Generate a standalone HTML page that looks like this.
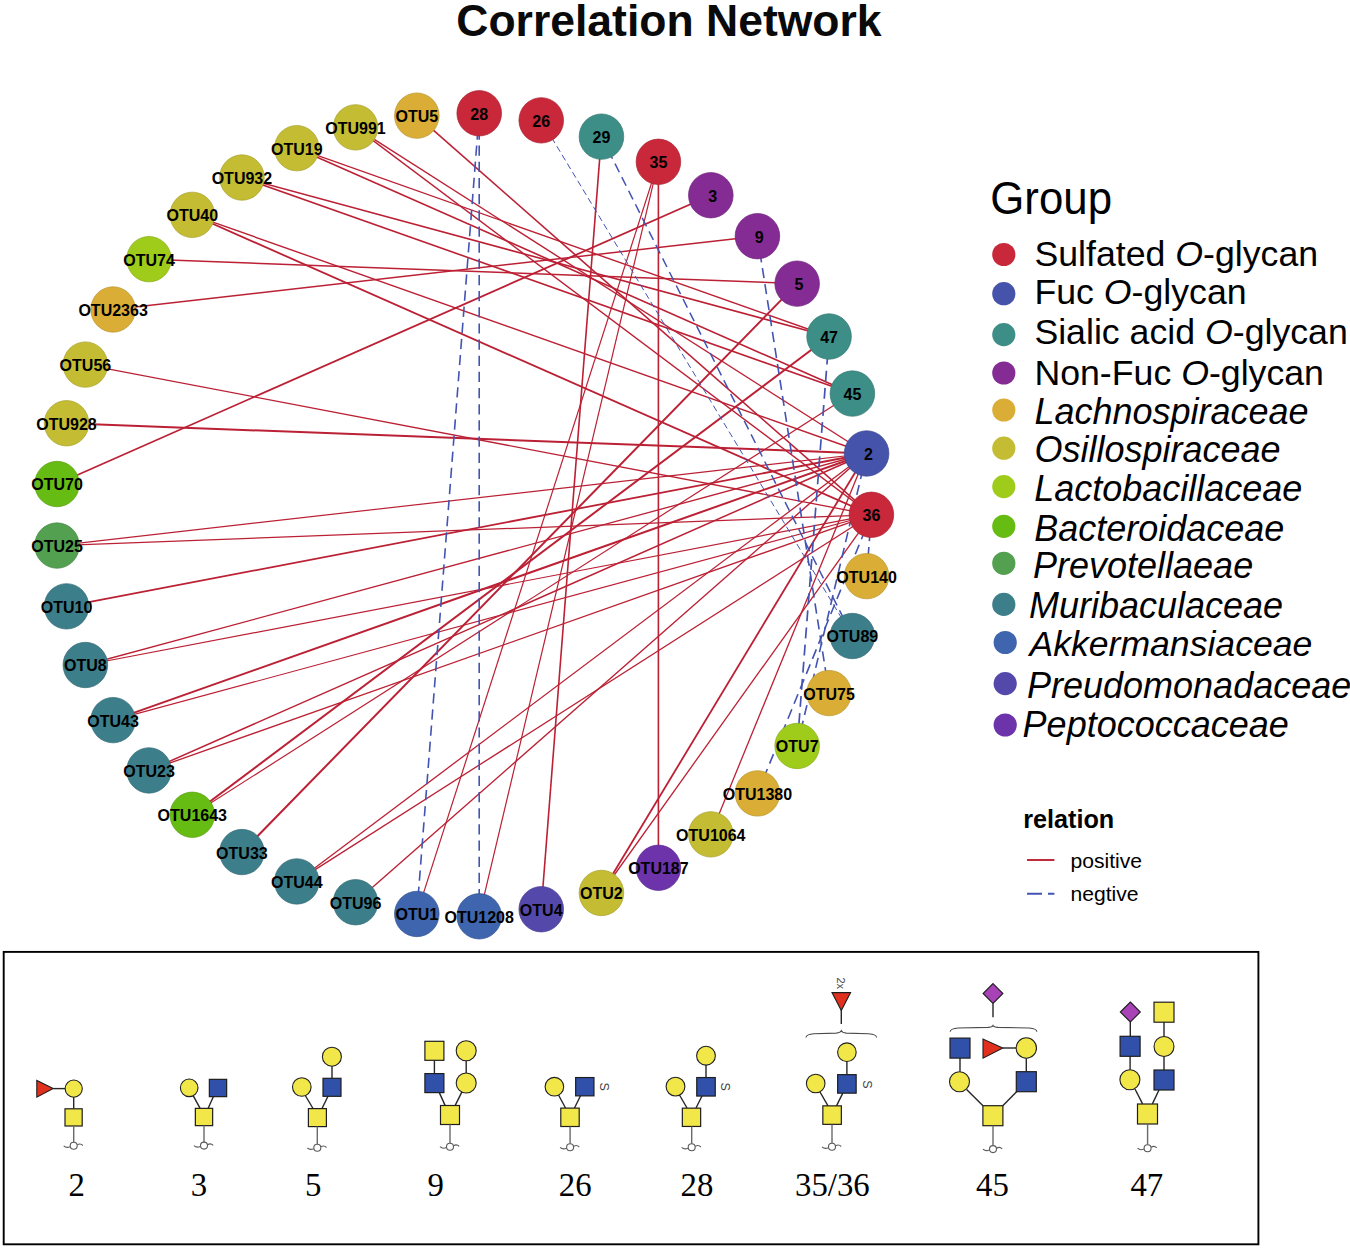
<!DOCTYPE html>
<html><head><meta charset="utf-8"><style>html,body{margin:0;padding:0;background:#fff;}body{width:1350px;height:1248px;overflow:hidden;}svg{display:block;font-family:"Liberation Sans",sans-serif;}</style></head><body>
<svg width="1350" height="1248" viewBox="0 0 1350 1248">
<rect width="1350" height="1248" fill="#fff"/>
<text x="456.3" y="35.6" font-size="44.5" font-weight="bold" fill="#0a0a0a">Correlation Network</text>
<g stroke="#BB2034" stroke-linecap="butt" fill="none">
<line x1="416.8" y1="115.7" x2="871.4" y2="514.8" stroke-width="1.6"/>
<line x1="355.5" y1="127.4" x2="866.6" y2="453.5" stroke-width="1.4"/>
<line x1="355.5" y1="127.4" x2="871.4" y2="514.8" stroke-width="1.4"/>
<line x1="296.8" y1="148.2" x2="829.1" y2="336.5" stroke-width="1.4"/>
<line x1="296.8" y1="148.2" x2="852.4" y2="393.6" stroke-width="1.6"/>
<line x1="241.9" y1="177.5" x2="829.1" y2="336.5" stroke-width="1.6"/>
<line x1="241.9" y1="177.5" x2="852.4" y2="393.6" stroke-width="1.6"/>
<line x1="192.3" y1="214.8" x2="866.6" y2="453.5" stroke-width="1.4"/>
<line x1="192.3" y1="214.8" x2="871.4" y2="514.8" stroke-width="1.8"/>
<line x1="149.0" y1="259.2" x2="797.2" y2="283.6" stroke-width="1.5"/>
<line x1="113.1" y1="309.5" x2="757.4" y2="236.2" stroke-width="1.5"/>
<line x1="85.4" y1="364.6" x2="871.4" y2="514.8" stroke-width="1.3"/>
<line x1="66.5" y1="423.2" x2="866.6" y2="453.5" stroke-width="2.0"/>
<line x1="57.0" y1="484.0" x2="710.8" y2="195.3" stroke-width="1.8"/>
<line x1="57.0" y1="545.6" x2="866.6" y2="453.5" stroke-width="1.2"/>
<line x1="57.0" y1="545.6" x2="871.4" y2="514.8" stroke-width="1.2"/>
<line x1="66.5" y1="606.4" x2="866.6" y2="453.5" stroke-width="1.8"/>
<line x1="85.4" y1="665.0" x2="866.6" y2="453.5" stroke-width="1.3"/>
<line x1="85.4" y1="665.0" x2="871.4" y2="514.8" stroke-width="1.2"/>
<line x1="113.1" y1="720.1" x2="866.6" y2="453.5" stroke-width="2.0"/>
<line x1="113.1" y1="720.1" x2="871.4" y2="514.8" stroke-width="1.1"/>
<line x1="149.0" y1="770.4" x2="866.6" y2="453.5" stroke-width="1.5"/>
<line x1="149.0" y1="770.4" x2="871.4" y2="514.8" stroke-width="1.3"/>
<line x1="192.3" y1="814.8" x2="829.1" y2="336.5" stroke-width="2.0"/>
<line x1="192.3" y1="814.8" x2="852.4" y2="393.6" stroke-width="1.2"/>
<line x1="241.9" y1="852.1" x2="797.2" y2="283.6" stroke-width="2.0"/>
<line x1="296.8" y1="881.4" x2="866.6" y2="453.5" stroke-width="1.3"/>
<line x1="296.8" y1="881.4" x2="871.4" y2="514.8" stroke-width="1.3"/>
<line x1="355.5" y1="902.2" x2="866.6" y2="453.5" stroke-width="1.4"/>
<line x1="416.8" y1="913.9" x2="658.4" y2="161.8" stroke-width="1.2"/>
<line x1="479.2" y1="916.3" x2="658.4" y2="161.8" stroke-width="1.2"/>
<line x1="541.2" y1="909.3" x2="601.4" y2="136.6" stroke-width="1.6"/>
<line x1="601.4" y1="893.0" x2="866.6" y2="453.5" stroke-width="1.8"/>
<line x1="601.4" y1="893.0" x2="871.4" y2="514.8" stroke-width="1.3"/>
<line x1="658.4" y1="867.8" x2="658.4" y2="161.8" stroke-width="1.6"/>
<line x1="710.8" y1="834.3" x2="866.6" y2="453.5" stroke-width="1.3"/>
</g>
<g stroke="#4353B2" fill="none">
<line x1="479.2" y1="113.3" x2="416.8" y2="913.9" stroke-width="1.6" stroke-dasharray="10.24 5.92"/>
<line x1="479.2" y1="113.3" x2="479.2" y2="916.3" stroke-width="1.6" stroke-dasharray="10.24 5.92"/>
<line x1="541.2" y1="120.3" x2="852.4" y2="636.0" stroke-width="1.0" stroke-dasharray="6.40 3.70"/>
<line x1="601.4" y1="136.6" x2="852.4" y2="636.0" stroke-width="1.5" stroke-dasharray="9.60 5.55"/>
<line x1="757.4" y1="236.2" x2="829.1" y2="693.1" stroke-width="1.6" stroke-dasharray="10.24 5.92"/>
<line x1="829.1" y1="336.5" x2="797.2" y2="746.0" stroke-width="1.7" stroke-dasharray="10.88 6.29"/>
<line x1="866.6" y1="453.5" x2="797.2" y2="746.0" stroke-width="1.6" stroke-dasharray="10.24 5.92"/>
<line x1="871.4" y1="514.8" x2="757.4" y2="793.4" stroke-width="1.6" stroke-dasharray="10.24 5.92"/>
<line x1="871.4" y1="514.8" x2="866.6" y2="576.1" stroke-width="1.6" stroke-dasharray="10.24 5.92"/>
</g>
<ellipse cx="871.40" cy="514.80" rx="22.3" ry="22.7" fill="#C8283A" stroke="#AA2231" stroke-width="0.7"/>
<ellipse cx="866.62" cy="453.47" rx="22.3" ry="22.7" fill="#4653AB" stroke="#3B4691" stroke-width="0.7"/>
<ellipse cx="852.40" cy="393.57" rx="22.3" ry="22.7" fill="#3E8E88" stroke="#347873" stroke-width="0.7"/>
<ellipse cx="829.06" cy="336.51" rx="22.3" ry="22.7" fill="#3E8E88" stroke="#347873" stroke-width="0.7"/>
<ellipse cx="797.15" cy="283.64" rx="22.3" ry="22.7" fill="#842C94" stroke="#70257D" stroke-width="0.7"/>
<ellipse cx="757.43" cy="236.18" rx="22.3" ry="22.7" fill="#842C94" stroke="#70257D" stroke-width="0.7"/>
<ellipse cx="710.82" cy="195.25" rx="22.3" ry="22.7" fill="#842C94" stroke="#70257D" stroke-width="0.7"/>
<ellipse cx="658.41" cy="161.81" rx="22.3" ry="22.7" fill="#C8283A" stroke="#AA2231" stroke-width="0.7"/>
<ellipse cx="601.44" cy="136.65" rx="22.3" ry="22.7" fill="#3E8E88" stroke="#347873" stroke-width="0.7"/>
<ellipse cx="541.24" cy="120.35" rx="22.3" ry="22.7" fill="#C8283A" stroke="#AA2231" stroke-width="0.7"/>
<ellipse cx="479.22" cy="113.29" rx="22.3" ry="22.7" fill="#C8283A" stroke="#AA2231" stroke-width="0.7"/>
<ellipse cx="416.83" cy="115.65" rx="22.3" ry="22.7" fill="#DAAE36" stroke="#B9932D" stroke-width="0.7"/>
<ellipse cx="355.54" cy="127.36" rx="22.3" ry="22.7" fill="#C4BD33" stroke="#A6A02B" stroke-width="0.7"/>
<ellipse cx="296.78" cy="148.16" rx="22.3" ry="22.7" fill="#C4BD33" stroke="#A6A02B" stroke-width="0.7"/>
<ellipse cx="241.93" cy="177.54" rx="22.3" ry="22.7" fill="#C4BD33" stroke="#A6A02B" stroke-width="0.7"/>
<ellipse cx="192.28" cy="214.83" rx="22.3" ry="22.7" fill="#C4BD33" stroke="#A6A02B" stroke-width="0.7"/>
<ellipse cx="148.99" cy="259.16" rx="22.3" ry="22.7" fill="#9FCC1A" stroke="#87AD16" stroke-width="0.7"/>
<ellipse cx="113.07" cy="309.47" rx="22.3" ry="22.7" fill="#DAAE36" stroke="#B9932D" stroke-width="0.7"/>
<ellipse cx="85.36" cy="364.60" rx="22.3" ry="22.7" fill="#C4BD33" stroke="#A6A02B" stroke-width="0.7"/>
<ellipse cx="66.53" cy="423.25" rx="22.3" ry="22.7" fill="#C4BD33" stroke="#A6A02B" stroke-width="0.7"/>
<ellipse cx="57.00" cy="484.04" rx="22.3" ry="22.7" fill="#66BC12" stroke="#569F0F" stroke-width="0.7"/>
<ellipse cx="57.00" cy="545.56" rx="22.3" ry="22.7" fill="#52A050" stroke="#458844" stroke-width="0.7"/>
<ellipse cx="66.53" cy="606.35" rx="22.3" ry="22.7" fill="#3D7E8B" stroke="#336B76" stroke-width="0.7"/>
<ellipse cx="85.36" cy="665.00" rx="22.3" ry="22.7" fill="#3D7E8B" stroke="#336B76" stroke-width="0.7"/>
<ellipse cx="113.07" cy="720.13" rx="22.3" ry="22.7" fill="#3D7E8B" stroke="#336B76" stroke-width="0.7"/>
<ellipse cx="148.99" cy="770.44" rx="22.3" ry="22.7" fill="#3D7E8B" stroke="#336B76" stroke-width="0.7"/>
<ellipse cx="192.28" cy="814.77" rx="22.3" ry="22.7" fill="#66BC12" stroke="#569F0F" stroke-width="0.7"/>
<ellipse cx="241.93" cy="852.06" rx="22.3" ry="22.7" fill="#3D7E8B" stroke="#336B76" stroke-width="0.7"/>
<ellipse cx="296.78" cy="881.44" rx="22.3" ry="22.7" fill="#3D7E8B" stroke="#336B76" stroke-width="0.7"/>
<ellipse cx="355.54" cy="902.24" rx="22.3" ry="22.7" fill="#3D7E8B" stroke="#336B76" stroke-width="0.7"/>
<ellipse cx="416.83" cy="913.95" rx="22.3" ry="22.7" fill="#3E65AD" stroke="#345593" stroke-width="0.7"/>
<ellipse cx="479.22" cy="916.31" rx="22.3" ry="22.7" fill="#3E65AD" stroke="#345593" stroke-width="0.7"/>
<ellipse cx="541.24" cy="909.25" rx="22.3" ry="22.7" fill="#5548AB" stroke="#483D91" stroke-width="0.7"/>
<ellipse cx="601.44" cy="892.95" rx="22.3" ry="22.7" fill="#C4BD33" stroke="#A6A02B" stroke-width="0.7"/>
<ellipse cx="658.41" cy="867.79" rx="22.3" ry="22.7" fill="#6C33AB" stroke="#5B2B91" stroke-width="0.7"/>
<ellipse cx="710.82" cy="834.35" rx="22.3" ry="22.7" fill="#C4BD33" stroke="#A6A02B" stroke-width="0.7"/>
<ellipse cx="757.43" cy="793.42" rx="22.3" ry="22.7" fill="#DAAE36" stroke="#B9932D" stroke-width="0.7"/>
<ellipse cx="797.15" cy="745.96" rx="22.3" ry="22.7" fill="#9FCC1A" stroke="#87AD16" stroke-width="0.7"/>
<ellipse cx="829.06" cy="693.09" rx="22.3" ry="22.7" fill="#DAAE36" stroke="#B9932D" stroke-width="0.7"/>
<ellipse cx="852.40" cy="636.03" rx="22.3" ry="22.7" fill="#3D7E8B" stroke="#336B76" stroke-width="0.7"/>
<ellipse cx="866.62" cy="576.13" rx="22.3" ry="22.7" fill="#DAAE36" stroke="#B9932D" stroke-width="0.7"/>
<g font-size="16" font-weight="bold" fill="#000" text-anchor="middle">
<text transform="translate(871.4 521.2) scale(1.0 1)">36</text>
<text transform="translate(868.4 459.9) scale(1.0 1)">2</text>
<text transform="translate(852.4 400.0) scale(1.0 1)">45</text>
<text transform="translate(829.1 342.9) scale(1.0 1)">47</text>
<text transform="translate(799.0 290.0) scale(1.0 1)">5</text>
<text transform="translate(759.2 242.6) scale(1.0 1)">9</text>
<text transform="translate(712.6 201.7) scale(1.0 1)">3</text>
<text transform="translate(658.4 168.2) scale(1.0 1)">35</text>
<text transform="translate(601.4 143.0) scale(1.0 1)">29</text>
<text transform="translate(541.2 126.7) scale(1.0 1)">26</text>
<text transform="translate(479.2 119.7) scale(1.0 1)">28</text>
<text transform="translate(416.8 122.1) scale(1.0 1)">OTU5</text>
<text transform="translate(355.5 133.8) scale(1.0 1)">OTU991</text>
<text transform="translate(296.8 154.6) scale(1.0 1)">OTU19</text>
<text transform="translate(241.9 183.9) scale(1.0 1)">OTU932</text>
<text transform="translate(192.3 221.2) scale(1.0 1)">OTU40</text>
<text transform="translate(149.0 265.6) scale(1.0 1)">OTU74</text>
<text transform="translate(113.1 315.9) scale(1.0 1)">OTU2363</text>
<text transform="translate(85.4 371.0) scale(1.0 1)">OTU56</text>
<text transform="translate(66.5 429.6) scale(1.0 1)">OTU928</text>
<text transform="translate(57.0 490.4) scale(1.0 1)">OTU70</text>
<text transform="translate(57.0 552.0) scale(1.0 1)">OTU25</text>
<text transform="translate(66.5 612.8) scale(1.0 1)">OTU10</text>
<text transform="translate(85.4 671.4) scale(1.0 1)">OTU8</text>
<text transform="translate(113.1 726.5) scale(1.0 1)">OTU43</text>
<text transform="translate(149.0 776.8) scale(1.0 1)">OTU23</text>
<text transform="translate(192.3 821.2) scale(1.0 1)">OTU1643</text>
<text transform="translate(241.9 858.5) scale(1.0 1)">OTU33</text>
<text transform="translate(296.8 887.8) scale(1.0 1)">OTU44</text>
<text transform="translate(355.5 908.6) scale(1.0 1)">OTU96</text>
<text transform="translate(416.8 920.3) scale(1.0 1)">OTU1</text>
<text transform="translate(479.2 922.7) scale(1.0 1)">OTU1208</text>
<text transform="translate(541.2 915.7) scale(1.0 1)">OTU4</text>
<text transform="translate(601.4 899.4) scale(1.0 1)">OTU2</text>
<text transform="translate(658.4 874.2) scale(1.0 1)">OTU187</text>
<text transform="translate(710.8 840.7) scale(1.0 1)">OTU1064</text>
<text transform="translate(757.4 799.8) scale(1.0 1)">OTU1380</text>
<text transform="translate(797.2 752.4) scale(1.0 1)">OTU7</text>
<text transform="translate(829.1 699.5) scale(1.0 1)">OTU75</text>
<text transform="translate(852.4 642.4) scale(1.0 1)">OTU89</text>
<text transform="translate(866.6 582.5) scale(1.0 1)">OTU140</text>
</g>
<text transform="translate(990.3 213.6) scale(0.938 1)" font-size="46.7" fill="#000">Group</text>
<circle cx="1003.8" cy="254.5" r="11.6" fill="#C8283A"/>
<text x="1034.4" y="265.5" font-size="35.7" fill="#000" xml:space="preserve"><tspan>Sulfated </tspan><tspan font-style="italic">O</tspan><tspan>-glycan</tspan></text>
<circle cx="1003.8" cy="293.7" r="11.6" fill="#4653AB"/>
<text x="1034.4" y="303.9" font-size="35.7" fill="#000" xml:space="preserve"><tspan>Fuc </tspan><tspan font-style="italic">O</tspan><tspan>-glycan</tspan></text>
<circle cx="1003.8" cy="334.6" r="11.6" fill="#3E8E88"/>
<text x="1034.4" y="344.2" font-size="35.7" fill="#000" xml:space="preserve"><tspan>Sialic acid </tspan><tspan font-style="italic">O</tspan><tspan>-glycan</tspan></text>
<circle cx="1003.8" cy="373.0" r="11.6" fill="#842C94"/>
<text x="1034.4" y="385.3" font-size="35.7" fill="#000" xml:space="preserve"><tspan>Non-Fuc </tspan><tspan font-style="italic">O</tspan><tspan>-glycan</tspan></text>
<circle cx="1003.8" cy="410.0" r="11.6" fill="#DAAE36"/>
<text x="1034.4" y="423.6" font-size="36.0" fill="#000" xml:space="preserve"><tspan font-style="italic">Lachnospiraceae</tspan></text>
<circle cx="1003.8" cy="448.2" r="11.6" fill="#C4BD33"/>
<text x="1034.4" y="461.7" font-size="36.0" fill="#000" xml:space="preserve"><tspan font-style="italic">Osillospiraceae</tspan></text>
<circle cx="1003.8" cy="486.6" r="11.6" fill="#9FCC1A"/>
<text x="1034.2" y="500.8" font-size="36.0" fill="#000" xml:space="preserve"><tspan font-style="italic">Lactobacillaceae</tspan></text>
<circle cx="1003.8" cy="526.3" r="11.6" fill="#66BC12"/>
<text x="1034.2" y="540.6" font-size="36.0" fill="#000" xml:space="preserve"><tspan font-style="italic">Bacteroidaceae</tspan></text>
<circle cx="1003.8" cy="563.3" r="11.6" fill="#52A050"/>
<text x="1033.0" y="577.6" font-size="36.0" fill="#000" xml:space="preserve"><tspan font-style="italic">Prevotellaeae</tspan></text>
<circle cx="1003.8" cy="604.4" r="11.6" fill="#3D7E8B"/>
<text x="1028.9" y="617.9" font-size="36.0" fill="#000" xml:space="preserve"><tspan font-style="italic">Muribaculaceae</tspan></text>
<circle cx="1005.2" cy="642.5" r="11.6" fill="#3E65AD"/>
<text x="1029.5" y="656.2" font-size="35.6" fill="#000" xml:space="preserve"><tspan font-style="italic">Akkermansiaceae</tspan></text>
<circle cx="1005.2" cy="683.6" r="11.6" fill="#5548AB"/>
<text x="1027.0" y="697.6" font-size="36.0" fill="#000" xml:space="preserve"><tspan font-style="italic">Preudomonadaceae</tspan></text>
<circle cx="1005.2" cy="725.0" r="11.6" fill="#6C33AB"/>
<text x="1022.6" y="737.1" font-size="36.0" fill="#000" xml:space="preserve"><tspan font-style="italic">Peptococcaceae</tspan></text>
<text x="1023.2" y="827.8" font-size="25.2" font-weight="bold" fill="#000">relation</text>
<line x1="1027" y1="860" x2="1054.4" y2="860" stroke="#BB2034" stroke-width="1.9"/>
<line x1="1027" y1="893.7" x2="1054.4" y2="893.7" stroke="#4353B2" stroke-width="1.9" stroke-dasharray="15 6"/>
<text x="1070.5" y="867.8" font-size="21.1" fill="#000">positive</text>
<text x="1070.5" y="901.1" font-size="21.1" fill="#000">negtive</text>
<rect x="3.7" y="951.9" width="1254.7" height="292.4" fill="none" stroke="#000" stroke-width="1.9"/>
<line x1="53.20" y1="1088.60" x2="65.30" y2="1088.60" stroke="#262626" stroke-width="1.4"/>
<polygon points="36.80,1080.40 36.80,1097.20 53.20,1088.60" fill="#E1311E" stroke="#1e1e1e" stroke-width="1.1" stroke-linejoin="miter"/>
<line x1="73.70" y1="1097.00" x2="73.70" y2="1108.80" stroke="#262626" stroke-width="1.4"/>
<circle cx="73.70" cy="1088.60" r="8.60" fill="#F2E748" stroke="#1e1e1e" stroke-width="1.1"/>
<rect x="65.00" y="1108.80" width="17.20" height="17.20" fill="#F2E748" stroke="#1e1e1e" stroke-width="1.2"/>
<line x1="73.70" y1="1126.00" x2="73.70" y2="1142.20" stroke="#6a6a6a" stroke-width="1.4"/>
<circle cx="73.70" cy="1145.80" r="3.5" fill="#fff" stroke="#5a5a5a" stroke-width="1.1"/>
<path d="M63.70,1145.80 q2.5,2.6 6.4,0.9 M77.30,1144.90 q3,-2 5.6,0.6" fill="none" stroke="#5a5a5a" stroke-width="1.1"/>
<line x1="193.30" y1="1095.90" x2="200.00" y2="1108.20" stroke="#262626" stroke-width="1.4"/>
<line x1="213.30" y1="1096.70" x2="208.20" y2="1108.20" stroke="#262626" stroke-width="1.4"/>
<circle cx="189.20" cy="1087.80" r="8.80" fill="#F2E748" stroke="#1e1e1e" stroke-width="1.1"/>
<rect x="209.35" y="1079.35" width="17.30" height="17.30" fill="#3150AA" stroke="#1e1e1e" stroke-width="1.2"/>
<rect x="195.35" y="1108.35" width="17.30" height="17.30" fill="#F2E748" stroke="#1e1e1e" stroke-width="1.2"/>
<line x1="204.00" y1="1125.60" x2="204.00" y2="1142.00" stroke="#6a6a6a" stroke-width="1.4"/>
<circle cx="204.00" cy="1145.60" r="3.5" fill="#fff" stroke="#5a5a5a" stroke-width="1.1"/>
<path d="M194.00,1145.60 q2.5,2.6 6.4,0.9 M207.60,1144.70 q3,-2 5.6,0.6" fill="none" stroke="#5a5a5a" stroke-width="1.1"/>
<line x1="305.00" y1="1095.00" x2="313.00" y2="1108.50" stroke="#262626" stroke-width="1.4"/>
<line x1="328.00" y1="1096.30" x2="322.00" y2="1108.50" stroke="#262626" stroke-width="1.4"/>
<line x1="332.00" y1="1066.00" x2="332.00" y2="1078.00" stroke="#262626" stroke-width="1.4"/>
<circle cx="301.80" cy="1087.00" r="9.30" fill="#F2E748" stroke="#1e1e1e" stroke-width="1.1"/>
<rect x="323.00" y="1078.30" width="18.00" height="18.00" fill="#3150AA" stroke="#1e1e1e" stroke-width="1.2"/>
<circle cx="331.90" cy="1056.70" r="9.50" fill="#F2E748" stroke="#1e1e1e" stroke-width="1.1"/>
<rect x="308.40" y="1108.60" width="18.00" height="18.00" fill="#F2E748" stroke="#1e1e1e" stroke-width="1.2"/>
<line x1="317.30" y1="1126.60" x2="317.30" y2="1144.20" stroke="#6a6a6a" stroke-width="1.4"/>
<circle cx="317.30" cy="1147.80" r="3.5" fill="#fff" stroke="#5a5a5a" stroke-width="1.1"/>
<path d="M307.30,1147.80 q2.5,2.6 6.4,0.9 M320.90,1146.90 q3,-2 5.6,0.6" fill="none" stroke="#5a5a5a" stroke-width="1.1"/>
<line x1="434.40" y1="1060.30" x2="434.40" y2="1073.60" stroke="#262626" stroke-width="1.4"/>
<line x1="466.20" y1="1060.70" x2="466.20" y2="1073.00" stroke="#262626" stroke-width="1.4"/>
<line x1="439.30" y1="1092.60" x2="445.20" y2="1105.60" stroke="#262626" stroke-width="1.4"/>
<line x1="461.90" y1="1091.90" x2="455.10" y2="1105.60" stroke="#262626" stroke-width="1.4"/>
<rect x="424.90" y="1041.30" width="19.00" height="19.00" fill="#F2E748" stroke="#1e1e1e" stroke-width="1.2"/>
<rect x="424.90" y="1073.60" width="19.00" height="19.00" fill="#3150AA" stroke="#1e1e1e" stroke-width="1.2"/>
<circle cx="466.20" cy="1050.70" r="10.00" fill="#F2E748" stroke="#1e1e1e" stroke-width="1.1"/>
<circle cx="466.20" cy="1083.00" r="10.00" fill="#F2E748" stroke="#1e1e1e" stroke-width="1.1"/>
<rect x="440.50" y="1105.50" width="19.00" height="19.00" fill="#F2E748" stroke="#1e1e1e" stroke-width="1.2"/>
<line x1="450.00" y1="1124.50" x2="450.00" y2="1143.10" stroke="#6a6a6a" stroke-width="1.4"/>
<circle cx="450.00" cy="1146.70" r="3.5" fill="#fff" stroke="#5a5a5a" stroke-width="1.1"/>
<path d="M440.00,1146.70 q2.5,2.6 6.4,0.9 M453.60,1145.80 q3,-2 5.6,0.6" fill="none" stroke="#5a5a5a" stroke-width="1.1"/>
<line x1="558.50" y1="1095.00" x2="565.50" y2="1108.00" stroke="#262626" stroke-width="1.4"/>
<line x1="580.50" y1="1095.80" x2="574.50" y2="1108.00" stroke="#262626" stroke-width="1.4"/>
<circle cx="554.40" cy="1086.70" r="9.30" fill="#F2E748" stroke="#1e1e1e" stroke-width="1.1"/>
<rect x="575.65" y="1077.55" width="18.30" height="18.30" fill="#3150AA" stroke="#1e1e1e" stroke-width="1.2"/>
<rect x="560.80" y="1108.10" width="18.40" height="18.40" fill="#F2E748" stroke="#1e1e1e" stroke-width="1.2"/>
<line x1="570.10" y1="1126.50" x2="570.10" y2="1143.70" stroke="#6a6a6a" stroke-width="1.4"/>
<circle cx="570.10" cy="1147.30" r="3.5" fill="#fff" stroke="#5a5a5a" stroke-width="1.1"/>
<path d="M560.10,1147.30 q2.5,2.6 6.4,0.9 M573.70,1146.40 q3,-2 5.6,0.6" fill="none" stroke="#5a5a5a" stroke-width="1.1"/>
<text x="604.20" y="1086.60" font-size="12.5" fill="#444" text-anchor="middle" transform="rotate(90 604.20 1086.60)" dy="4.4">S</text>
<line x1="679.50" y1="1095.00" x2="687.00" y2="1108.00" stroke="#262626" stroke-width="1.4"/>
<line x1="702.00" y1="1096.00" x2="696.00" y2="1108.00" stroke="#262626" stroke-width="1.4"/>
<line x1="706.00" y1="1065.00" x2="706.00" y2="1077.60" stroke="#262626" stroke-width="1.4"/>
<circle cx="675.50" cy="1086.60" r="9.40" fill="#F2E748" stroke="#1e1e1e" stroke-width="1.1"/>
<rect x="696.75" y="1077.55" width="18.50" height="18.50" fill="#3150AA" stroke="#1e1e1e" stroke-width="1.2"/>
<circle cx="706.00" cy="1055.70" r="9.40" fill="#F2E748" stroke="#1e1e1e" stroke-width="1.1"/>
<rect x="682.35" y="1108.15" width="18.30" height="18.30" fill="#F2E748" stroke="#1e1e1e" stroke-width="1.2"/>
<line x1="691.70" y1="1126.50" x2="691.70" y2="1143.70" stroke="#6a6a6a" stroke-width="1.4"/>
<circle cx="691.70" cy="1147.30" r="3.5" fill="#fff" stroke="#5a5a5a" stroke-width="1.1"/>
<path d="M681.70,1147.30 q2.5,2.6 6.4,0.9 M695.30,1146.40 q3,-2 5.6,0.6" fill="none" stroke="#5a5a5a" stroke-width="1.1"/>
<text x="725.60" y="1086.60" font-size="12.5" fill="#444" text-anchor="middle" transform="rotate(90 725.60 1086.60)" dy="4.4">S</text>
<text x="841.3" y="983.2" font-size="11" fill="#4a4a4a" text-anchor="middle" transform="rotate(90 841.3 983.2)" dy="4">2x</text>
<line x1="841.30" y1="1010.00" x2="841.30" y2="1024.10" stroke="#262626" stroke-width="1.4"/>
<polygon points="832.00,992.60 850.60,992.60 841.30,1010.50" fill="#E1311E" stroke="#1e1e1e" stroke-width="1.1" stroke-linejoin="miter"/>
<path d="M806.00,1037.50 Q806.00,1034.30 814.00,1033.70 L836.30,1033.10 Q840.30,1032.90 841.30,1030.60 Q842.30,1032.90 846.30,1033.10 L868.60,1033.70 Q876.60,1034.30 876.60,1037.50" fill="none" stroke="#4a4a4a" stroke-width="1.1"/>
<line x1="820.00" y1="1092.00" x2="828.00" y2="1105.90" stroke="#262626" stroke-width="1.4"/>
<line x1="842.80" y1="1093.10" x2="836.50" y2="1105.90" stroke="#262626" stroke-width="1.4"/>
<line x1="846.90" y1="1061.50" x2="846.90" y2="1074.70" stroke="#262626" stroke-width="1.4"/>
<circle cx="846.90" cy="1052.20" r="9.30" fill="#F2E748" stroke="#1e1e1e" stroke-width="1.1"/>
<rect x="837.65" y="1074.65" width="18.50" height="18.50" fill="#3150AA" stroke="#1e1e1e" stroke-width="1.2"/>
<circle cx="815.70" cy="1083.50" r="9.30" fill="#F2E748" stroke="#1e1e1e" stroke-width="1.1"/>
<rect x="822.85" y="1105.85" width="18.50" height="18.50" fill="#F2E748" stroke="#1e1e1e" stroke-width="1.2"/>
<line x1="832.00" y1="1124.40" x2="832.00" y2="1143.20" stroke="#6a6a6a" stroke-width="1.4"/>
<circle cx="832.00" cy="1146.80" r="3.5" fill="#fff" stroke="#5a5a5a" stroke-width="1.1"/>
<path d="M822.00,1146.80 q2.5,2.6 6.4,0.9 M835.60,1145.90 q3,-2 5.6,0.6" fill="none" stroke="#5a5a5a" stroke-width="1.1"/>
<text x="867.00" y="1084.30" font-size="12.5" fill="#444" text-anchor="middle" transform="rotate(90 867.00 1084.30)" dy="4.4">S</text>
<line x1="993.00" y1="1003.40" x2="993.00" y2="1017.20" stroke="#262626" stroke-width="1.4"/>
<polygon points="993.00,983.60 1002.90,993.50 993.00,1003.40 983.10,993.50" fill="#A743B6" stroke="#1e1e1e" stroke-width="1.1" stroke-linejoin="miter"/>
<path d="M950.20,1031.80 Q950.20,1028.60 958.20,1028.00 L988.00,1027.40 Q992.00,1027.20 993.00,1025.40 Q994.00,1027.20 998.00,1027.40 L1028.90,1028.00 Q1036.90,1028.60 1036.90,1031.80" fill="none" stroke="#4a4a4a" stroke-width="1.1"/>
<line x1="1002.80" y1="1048.00" x2="1016.10" y2="1048.00" stroke="#262626" stroke-width="1.4"/>
<line x1="960.00" y1="1058.00" x2="960.00" y2="1071.70" stroke="#262626" stroke-width="1.4"/>
<line x1="1026.30" y1="1058.20" x2="1026.30" y2="1071.70" stroke="#262626" stroke-width="1.4"/>
<line x1="966.60" y1="1089.40" x2="983.00" y2="1105.80" stroke="#262626" stroke-width="1.4"/>
<line x1="1016.60" y1="1091.70" x2="1002.80" y2="1105.80" stroke="#262626" stroke-width="1.4"/>
<rect x="950.00" y="1038.10" width="20.00" height="20.00" fill="#3150AA" stroke="#1e1e1e" stroke-width="1.2"/>
<polygon points="983.00,1039.00 983.00,1058.20 1002.80,1048.00" fill="#E1311E" stroke="#1e1e1e" stroke-width="1.1" stroke-linejoin="miter"/>
<circle cx="1026.30" cy="1048.00" r="10.20" fill="#F2E748" stroke="#1e1e1e" stroke-width="1.1"/>
<rect x="1016.30" y="1071.70" width="20.00" height="20.00" fill="#3150AA" stroke="#1e1e1e" stroke-width="1.2"/>
<circle cx="959.50" cy="1081.70" r="10.00" fill="#F2E748" stroke="#1e1e1e" stroke-width="1.1"/>
<rect x="982.90" y="1105.70" width="20.00" height="20.00" fill="#F2E748" stroke="#1e1e1e" stroke-width="1.2"/>
<line x1="993.00" y1="1125.70" x2="993.00" y2="1145.50" stroke="#6a6a6a" stroke-width="1.4"/>
<circle cx="993.00" cy="1149.10" r="3.5" fill="#fff" stroke="#5a5a5a" stroke-width="1.1"/>
<path d="M983.00,1149.10 q2.5,2.6 6.4,0.9 M996.60,1148.20 q3,-2 5.6,0.6" fill="none" stroke="#5a5a5a" stroke-width="1.1"/>
<line x1="1130.30" y1="1022.00" x2="1130.30" y2="1036.40" stroke="#262626" stroke-width="1.4"/>
<line x1="1130.10" y1="1056.30" x2="1130.10" y2="1069.80" stroke="#262626" stroke-width="1.4"/>
<line x1="1164.00" y1="1022.00" x2="1164.00" y2="1036.50" stroke="#262626" stroke-width="1.4"/>
<line x1="1164.00" y1="1056.50" x2="1164.00" y2="1070.00" stroke="#262626" stroke-width="1.4"/>
<line x1="1135.00" y1="1089.00" x2="1142.60" y2="1103.90" stroke="#262626" stroke-width="1.4"/>
<line x1="1159.00" y1="1090.00" x2="1152.40" y2="1103.90" stroke="#262626" stroke-width="1.4"/>
<polygon points="1130.30,1002.00 1140.30,1012.00 1130.30,1022.00 1120.30,1012.00" fill="#A743B6" stroke="#1e1e1e" stroke-width="1.1" stroke-linejoin="miter"/>
<rect x="1120.10" y="1036.30" width="20.00" height="20.00" fill="#3150AA" stroke="#1e1e1e" stroke-width="1.2"/>
<circle cx="1129.90" cy="1079.80" r="10.00" fill="#F2E748" stroke="#1e1e1e" stroke-width="1.1"/>
<rect x="1154.00" y="1002.20" width="20.00" height="20.00" fill="#F2E748" stroke="#1e1e1e" stroke-width="1.2"/>
<circle cx="1164.00" cy="1046.50" r="10.00" fill="#F2E748" stroke="#1e1e1e" stroke-width="1.1"/>
<rect x="1154.00" y="1070.00" width="20.00" height="20.00" fill="#3150AA" stroke="#1e1e1e" stroke-width="1.2"/>
<rect x="1137.50" y="1104.00" width="20.00" height="20.00" fill="#F2E748" stroke="#1e1e1e" stroke-width="1.2"/>
<line x1="1147.60" y1="1124.00" x2="1147.60" y2="1144.60" stroke="#6a6a6a" stroke-width="1.4"/>
<circle cx="1147.60" cy="1148.20" r="3.5" fill="#fff" stroke="#5a5a5a" stroke-width="1.1"/>
<path d="M1137.60,1148.20 q2.5,2.6 6.4,0.9 M1151.20,1147.30 q3,-2 5.6,0.6" fill="none" stroke="#5a5a5a" stroke-width="1.1"/>
<g font-family="Liberation Serif, serif" font-size="32.8" fill="#000" text-anchor="middle">
<text x="76.7" y="1196">2</text>
<text x="199" y="1196">3</text>
<text x="313.3" y="1196">5</text>
<text x="435.7" y="1196">9</text>
<text x="575.2" y="1196">26</text>
<text x="696.9" y="1196">28</text>
<text x="832.4" y="1196">35/36</text>
<text x="992.5" y="1196">45</text>
<text x="1146.8" y="1196">47</text>
</g>
</svg></body></html>
